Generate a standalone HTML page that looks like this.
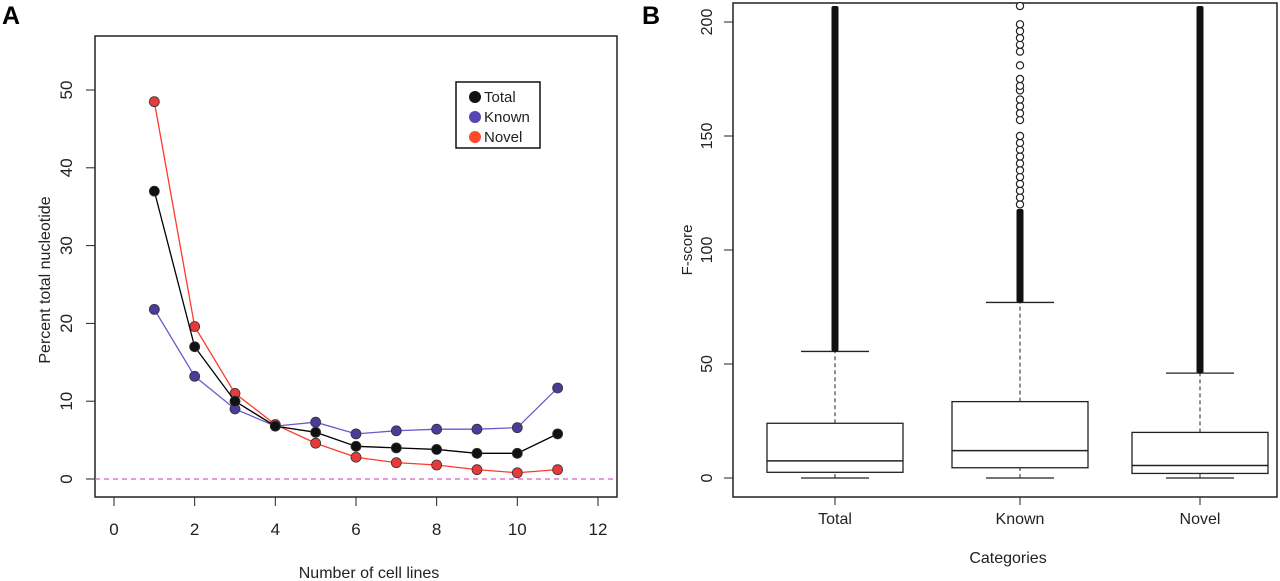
<!DOCTYPE html>
<html><head><meta charset="utf-8">
<style>
html,body{margin:0;padding:0;background:#fff;}
svg{display:block;font-family:"Liberation Sans",sans-serif;}
</style></head>
<body>
<svg id="svg" width="1280" height="581" viewBox="0 0 1280 581">
<text x="2" y="24" font-size="25" font-weight="bold">A</text>
<text x="642" y="24" font-size="25" font-weight="bold">B</text>
<g id="ga"></g>
<g id="gb"></g>
</svg>
<script>
const xCats = [1,2,3,4,5,6,7,8,9,10,11];
const totalVals = [37,17,10,6.8,6,4.2,4,3.8,3.3,3.3,5.8];
const knownVals = [21.8,13.2,9,6.8,7.3,5.8,6.2,6.4,6.4,6.6,11.7];
const novelVals = [48.5,19.6,11,7,4.6,2.8,2.1,1.8,1.2,0.8,1.2];
const xTicks = [0,2,4,6,8,10,12];
const yTicksA = [0,10,20,30,40,50];

const boxCats = ["Total","Known","Novel"];
const boxMin = [0,0,0];
const boxQ1 = [2.5,4.5,2];
const boxMed = [7.5,12,5.5];
const boxQ3 = [24,33.5,20];
const boxWhisk = [55.5,77,46];
const denseTop = [207,118,207];
const knownOutliers = [120,123,126,129,132,135,138,141,144,147,150,157,160,163,166,170,172,175,181,187,190,193,196,199,207];
const yTicksB = [0,50,100,150,200];

const NS="http://www.w3.org/2000/svg";
function mk(parent,tag,attrs){const e=document.createElementNS(NS,tag);for(const k in attrs)e.setAttribute(k,attrs[k]);parent.appendChild(e);return e;}

// Panel A
const ga=document.getElementById('ga');
const xA=v=>114+v*40.33;
const yA=v=>479-v*7.78;
let r=mk(ga,'rect',{x:95,y:36,width:522,height:461,fill:'none',stroke:'#222','stroke-width':1.5});

let l=mk(ga,'line',{x1:95,x2:617,y1:yA(0),y2:yA(0),stroke:'#d060c0','stroke-dasharray':'5,4','stroke-width':1.2});

xTicks.forEach(t=>{
 let tk=mk(ga,'line',{x1:xA(t),x2:xA(t),y1:497,y2:506,stroke:'#222'});
 
 let tx=mk(ga,'text',{x:xA(t),y:535,'font-size':17,'text-anchor':'middle',fill:'#222'});tx.textContent=t;
 
});
yTicksA.forEach(t=>{
 let tk=mk(ga,'line',{x1:86,x2:95,y1:yA(t),y2:yA(t),stroke:'#222'});
 
 let tx=mk(ga,'text',{x:0,y:0,'font-size':17,'text-anchor':'middle',fill:'#222',transform:`translate(72,${yA(t)}) rotate(-90)`});tx.textContent=t;
 
});
let xt=mk(ga,'text',{x:369,y:578,'font-size':16,'text-anchor':'middle',fill:'#222'});xt.textContent='Number of cell lines';

let yt=mk(ga,'text',{x:0,y:0,'font-size':16,'text-anchor':'middle',fill:'#222',transform:'translate(50,280) rotate(-90)'});yt.textContent='Percent total nucleotide';

const series=[[knownVals,'#6a5acd','#4b3b9a','known'],[novelVals,'#ff3a2a','#e83a3a','novel'],[totalVals,'#000','#111','total']];
series.forEach(([vals,lc,pc,nm])=>{
 let p=mk(ga,'polyline',{points:vals.map((v,i)=>xA(xCats[i])+','+yA(v)).join(' '),fill:'none',stroke:lc,'stroke-width':1.3});
 
 vals.forEach((v,i)=>{let c=mk(ga,'circle',{cx:xA(xCats[i]),cy:yA(v),r:5,fill:pc,stroke:'#333','stroke-width':0.8});
  });
});
let lg=mk(ga,'g',{});
mk(lg,'rect',{x:456,y:82,width:84,height:66,fill:'#fff',stroke:'#111','stroke-width':1.5});
[['Total','#111'],['Known','#5a45b0'],['Novel','#ff4a2a']].forEach((e,i)=>{
 let g=mk(lg,'g',{});
 mk(g,'circle',{cx:475,cy:97+i*20,r:6,fill:e[1]});
 let t=mk(g,'text',{x:484,y:102+i*20,'font-size':15,fill:'#222'});t.textContent=e[0];
});

// Panel B
const gb=document.getElementById('gb');
const yB=v=>478-v*2.28;
const xB=[835,1020,1200];
const hw=68;
let rb=mk(gb,'rect',{x:733,y:3,width:544,height:494,fill:'none',stroke:'#222','stroke-width':1.5});

yTicksB.forEach(t=>{
 let tk=mk(gb,'line',{x1:724,x2:733,y1:yB(t),y2:yB(t),stroke:'#222'});
 
 let tx=mk(gb,'text',{x:0,y:0,'font-size':16,'text-anchor':'middle',fill:'#222',transform:`translate(712,${yB(t)}) rotate(-90)`});tx.textContent=t;
 
});
let yt2=mk(gb,'text',{x:0,y:0,'font-size':15,'text-anchor':'middle',fill:'#222',transform:'translate(692,250) rotate(-90)'});yt2.textContent='F-score';

let xt2=mk(gb,'text',{x:1008,y:563,'font-size':16,'text-anchor':'middle',fill:'#222'});xt2.textContent='Categories';

boxCats.forEach((c,i)=>{
 const x=xB[i];
 let g=mk(gb,'g',{});
 mk(g,'line',{x1:x,x2:x,y1:497,y2:505,stroke:'#222'});
 let t=mk(gb,'text',{x:x,y:524,'font-size':16,'text-anchor':'middle',fill:'#222'});t.textContent=c;
 
 mk(g,'line',{x1:x,x2:x,y1:yB(boxQ3[i]),y2:yB(boxWhisk[i]),stroke:'#222','stroke-dasharray':'4,3'});
 mk(g,'line',{x1:x,x2:x,y1:yB(boxMin[i]),y2:yB(boxQ1[i]),stroke:'#222','stroke-dasharray':'4,3'});
 mk(g,'line',{x1:x-hw/2,x2:x+hw/2,y1:yB(boxWhisk[i]),y2:yB(boxWhisk[i]),stroke:'#222','stroke-width':1.3});
 mk(g,'line',{x1:x-hw/2,x2:x+hw/2,y1:yB(boxMin[i]),y2:yB(boxMin[i]),stroke:'#222','stroke-width':1.3});
 mk(g,'rect',{x:x-hw,y:yB(boxQ3[i]),width:hw*2,height:yB(boxQ1[i])-yB(boxQ3[i]),fill:'#fff',stroke:'#222','stroke-width':1.3});
 mk(g,'line',{x1:x-hw,x2:x+hw,y1:yB(boxMed[i]),y2:yB(boxMed[i]),stroke:'#222','stroke-width':1.5});
 let top=Math.max(yB(denseTop[i]),4);
 let d=mk(g,'rect',{x:x-3.5,y:top,width:7,height:yB(boxWhisk[i])-top,fill:'#111',rx:2});
 
});
knownOutliers.forEach(v=>{
 let c=mk(gb,'circle',{cx:xB[1],cy:Math.max(yB(v),6),r:3.6,fill:'#fff',stroke:'#222','stroke-width':1.2});
 
});
</script>
</body></html>
